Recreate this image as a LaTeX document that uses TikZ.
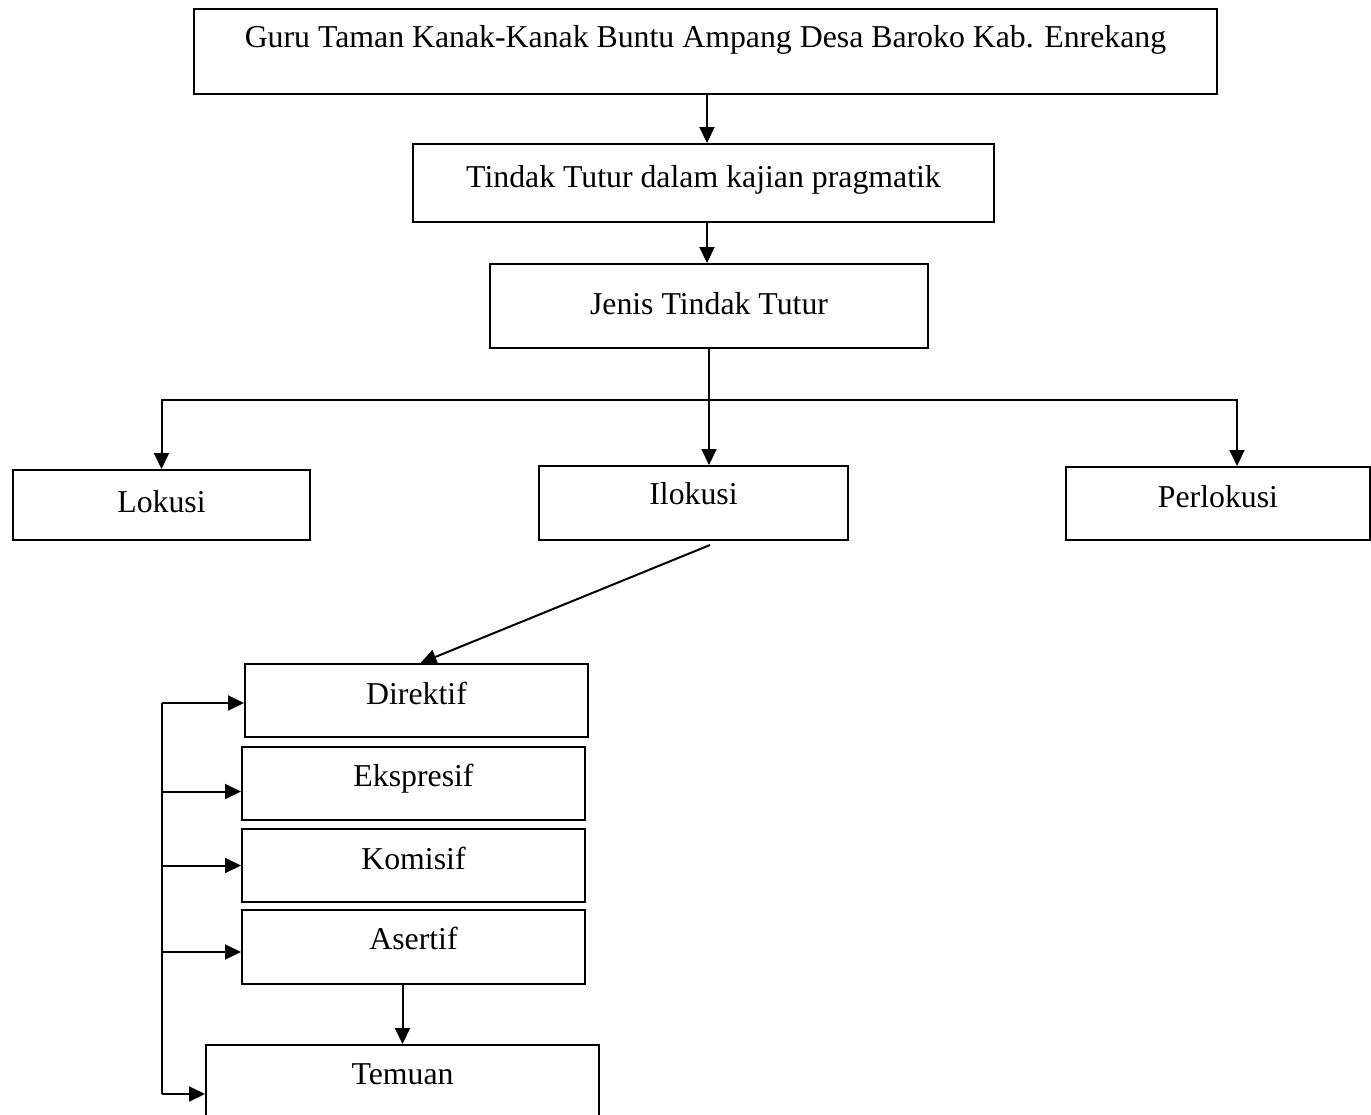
\documentclass[tikz,border=0pt]{standalone}
\usepackage{fontspec}
\setmainfont{Liberation Serif}
\usetikzlibrary{arrows.meta}

\begin{document}
\begin{tikzpicture}[x=1pt, y=-1pt, font=\fontsize{31.8}{38}\selectfont,
    box/.style={draw, line width=2pt, inner sep=0pt, anchor=north west},
    arr/.style={line width=2pt, -{Triangle[length=16pt,width=15pt]}},
    ln/.style={line width=2pt}]
        % Page frame
        \clip (0,0) rectangle (1371,1114);

        % Upper chain
        \node[box, minimum width=1023pt, text height=38pt, text depth=47pt] (guru) at (193,8) {Guru Taman Kanak-Kanak Buntu Ampang Desa Baroko Kab. Enrekang};
        \node[box, minimum width=581pt, text height=43pt, text depth=35pt] (tindak) at (412,143) {Tindak Tutur dalam kajian pragmatik};
        \node[box, minimum width=438pt, text height=50pt, text depth=34pt] (jenis) at (489,263) {Jenis Tindak Tutur};

        % Three kinds of speech act
        \node[box, minimum width=297pt, text height=42pt, text depth=28pt] (lokusi) at (12,469) {Lokusi};
        \node[box, minimum width=309pt, text height=38pt, text depth=36pt] (ilokusi) at (538,465) {Ilokusi};
        \node[box, minimum width=304pt, text height=40pt, text depth=33pt] (perlokusi) at (1065,466) {Perlokusi};

        % Kinds of illocution
        \node[box, minimum width=343pt, text height=40pt, text depth=33pt] (direktif) at (244,663) {Direktif};
        \node[box, minimum width=343pt, text height=39pt, text depth=34pt] (ekspresif) at (241,746) {Ekspresif};
        \node[box, minimum width=343pt, text height=40pt, text depth=33pt] (komisif) at (241,828) {Komisif};
        \node[box, minimum width=343pt, text height=39pt, text depth=35pt] (asertif) at (241,909) {Asertif};
        \node[box, minimum width=393pt, text height=39pt, text depth=41pt] (temuan) at (205,1044) {Temuan};

        % Arrows down the middle
        \draw[arr] ([xshift=1.5pt]guru.south) -- ([xshift=1.5pt]guru.south |- tindak.north);
        \draw[arr] ([xshift=3.5pt]tindak.south) -- ([xshift=3.5pt]tindak.south |- jenis.north);
        \draw[arr] (jenis.south) -- (jenis.south |- ilokusi.north);

        % Split to lokusi and perlokusi
        \coordinate (split) at (708,400);
        \draw[arr] (split) -| (lokusi.north);
        \draw[arr] (split) -| ([xshift=19pt]perlokusi.north);

        % Ilokusi down to direktif
        \coordinate (ilo-out) at (710,545);
        \draw[arr] (ilo-out) -- ([xshift=4pt]direktif.north);

        % Line on the left
        \coordinate (back-top) at (162,703);
        \coordinate (back-bot) at (162,1094);
        \draw[ln] (back-top) -- (back-bot);
        \draw[arr] (back-top) -- (back-top -| direktif.west);
        \foreach \n/\s in {ekspresif/8, komisif/0, asertif/5} {
            \coordinate (\n-in) at ([yshift=-\s pt]\n.west);
            \draw[arr] (\n-in -| back-top) -- (\n-in);
        }
        \draw[arr] (back-bot) -- (back-bot -| temuan.west);

        % Asertif to temuan
        \draw[arr] (asertif.south -| temuan.north) -- (temuan.north);
      \end{tikzpicture}
\end{document}
